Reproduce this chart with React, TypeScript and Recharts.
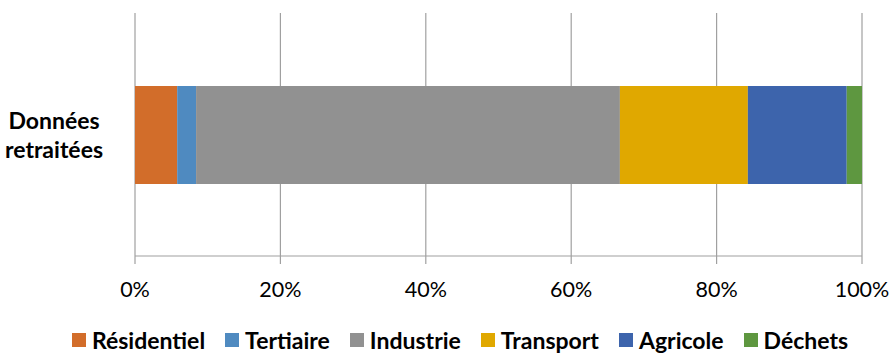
import { Bar, BarChart, CartesianGrid, Legend, XAxis, YAxis } from "recharts";

const categories = ["Données retraitées"];
const sectors = ["Résidentiel", "Tertiaire", "Industrie", "Transport", "Agricole", "Déchets"];
const shares = [5.8, 2.6, 58.3, 17.6, 13.6, 2.1];
const colors = ["#D26D2A", "#4F8AC0", "#919191", "#E0A800", "#3D64AC", "#5E9740"];
const xTicks = [0, 20, 40, 60, 80, 100];

const data = categories.map((name) => {
  const row: Record<string, string | number> = { name };
  sectors.forEach((s, i) => {
    row[s] = shares[i];
  });
  return row;
});

const FONT = "Lato, 'Open Sans', sans-serif";
const AXIS = "#A0A0A0";

function CategoryTick(props: any) {
  const { x, y, payload } = props;
  const words = String(payload.value).split(" ");
  return (
    <text
      x={x - 73}
      y={y}
      textAnchor="middle"
      fontFamily={FONT}
      fontWeight="bold"
      fontSize={23}
      fill="#000"
    >
      {words.map((w, i) => (
        <tspan key={i} x={x - 73} dy={i === 0 ? -6 : 29}>
          {w}
        </tspan>
      ))}
    </text>
  );
}

function LegendContent() {
  return (
    <div
      style={{
        display: "flex",
        justifyContent: "center",
        paddingLeft: 58,
        fontFamily: FONT,
        fontWeight: "bold",
        fontSize: 23,
        color: "#000",
        lineHeight: "24px",
      }}
    >
      {sectors.map((s, i) => (
        <div key={s} style={{ display: "flex", alignItems: "center", marginLeft: i === 0 ? 0 : 20 }}>
          <span style={{ width: 14, height: 14, background: colors[i], marginRight: 6, display: "inline-block" }} />
          <span>{s}</span>
        </div>
      ))}
    </div>
  );
}

export default function App() {
  return (
    <div style={{ position: "absolute", left: 0, top: 0, width: 891, height: 353, background: "#fff" }}>
      <BarChart
        width={891}
        height={353}
        data={data}
        layout="vertical"
        margin={{ top: 13, right: 29, left: 0, bottom: 0 }}
        barSize={98}
      >
        <CartesianGrid horizontal={false} stroke={AXIS} strokeWidth={1.2} />
        <XAxis
          type="number"
          domain={[0, 100]}
          ticks={xTicks}
          tickFormatter={(v) => `${v}%`}
          axisLine={{ stroke: AXIS, strokeWidth: 1.2 }}
          tickLine={{ stroke: AXIS, strokeWidth: 1.2 }}
          tickSize={8}
          tickMargin={18}
          height={75}
          tick={{ fontFamily: FONT, fontSize: 21.5, fill: "#000" }}
          interval={0}
        />
        <YAxis
          yAxisId="frame"
          type="number"
          domain={[0, 1]}
          ticks={[0, 1]}
          tick={false}
          width={0}
          axisLine={{ stroke: AXIS, strokeWidth: 1.2 }}
          tickLine={{ stroke: AXIS, strokeWidth: 1.2 }}
          tickSize={8}
        />
        <YAxis
          type="category"
          dataKey="name"
          width={135}
          axisLine={false}
          tickLine={false}
          tick={<CategoryTick />}
        />
        <Legend
          verticalAlign="bottom"
          height={22}
          wrapperStyle={{ top: 328, bottom: "auto" }}
          content={<LegendContent />}
        />
        {sectors.map((s, i) => (
          <Bar key={s} dataKey={s} stackId="a" fill={colors[i]} isAnimationActive={false} />
        ))}
      </BarChart>
    </div>
  );
}
